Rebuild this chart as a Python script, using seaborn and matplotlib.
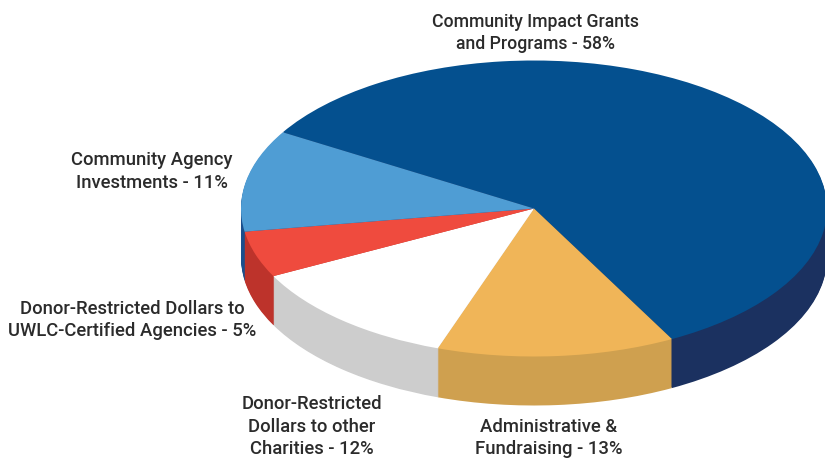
import matplotlib.pyplot as plt
import seaborn as sns

# Values as printed on the chart (they add up to 99 in the original too)
categories = [
    "Community Impact Grants\nand Programs - 58%",
    "Administrative &\nFundraising - 13%",
    "Donor-Restricted\nDollars to other\nCharities - 12%",
    "Donor-Restricted Dollars to\nUWLC-Certified Agencies - 5%",
    "Community Agency\nInvestments - 11%",
]
shares = [58, 13, 12, 5, 11]
top_colors = ["#04508f", "#f0b558", "#ffffff", "#ef4b3e", "#4f9dd4"]
side_colors = ["#1b3160", "#cfa04f", "#cdcdcd", "#bd332b", "#1b4f8c"]

# Label anchors in pixels from the top left (centre x, centre y)
label_px = [(535, 33), (549, 438), (312, 426.5), (132, 320), (152, 171.5)]
label_size = [12.7, 13.3, 13.3, 13.3, 13.3]

sns.set_theme(style="white")
plt.rcParams["font.family"] = ["Roboto", "DejaVu Sans"]

W, H = 825, 458
CX, CY = 534, 208.5  # pie centre in pixels
RX, RY = 293, 148  # ellipse radii in pixels
DEPTH = 49  # wall height in pixels

fig = plt.figure(figsize=(W / 100, H / 100), dpi=100)
ax = fig.add_axes([0, 0, 1, 1])

# Side wall: the same pie stacked downwards, one pixel at a time
for d in range(DEPTH, 0, -1):
    ax.pie(
        shares,
        colors=sns.color_palette(side_colors),
        startangle=149,
        counterclock=False,
        center=(0, -d / RY),
        wedgeprops={"linewidth": 0.6, "edgecolor": "none"},
    )

# Top face
ax.pie(
    shares,
    colors=sns.color_palette(top_colors),
    startangle=149,
    counterclock=False,
    wedgeprops={"linewidth": 0},
)

# Squash the circle into the tilted ellipse
ax.set_aspect("auto")
ax.set_xlim(-CX / RX, (W - CX) / RX)
ax.set_ylim(-(H - CY) / RY, CY / RY)

for label, size, (px, py) in zip(categories, label_size, label_px):
    fig.text(
        px / W,
        1 - py / H,
        label,
        ha="center",
        va="center",
        multialignment="center",
        fontsize=size,
        fontweight="medium",
        color="#2b2b2b",
        linespacing=1.35,
    )

fig.savefig("out.png", dpi=100)
